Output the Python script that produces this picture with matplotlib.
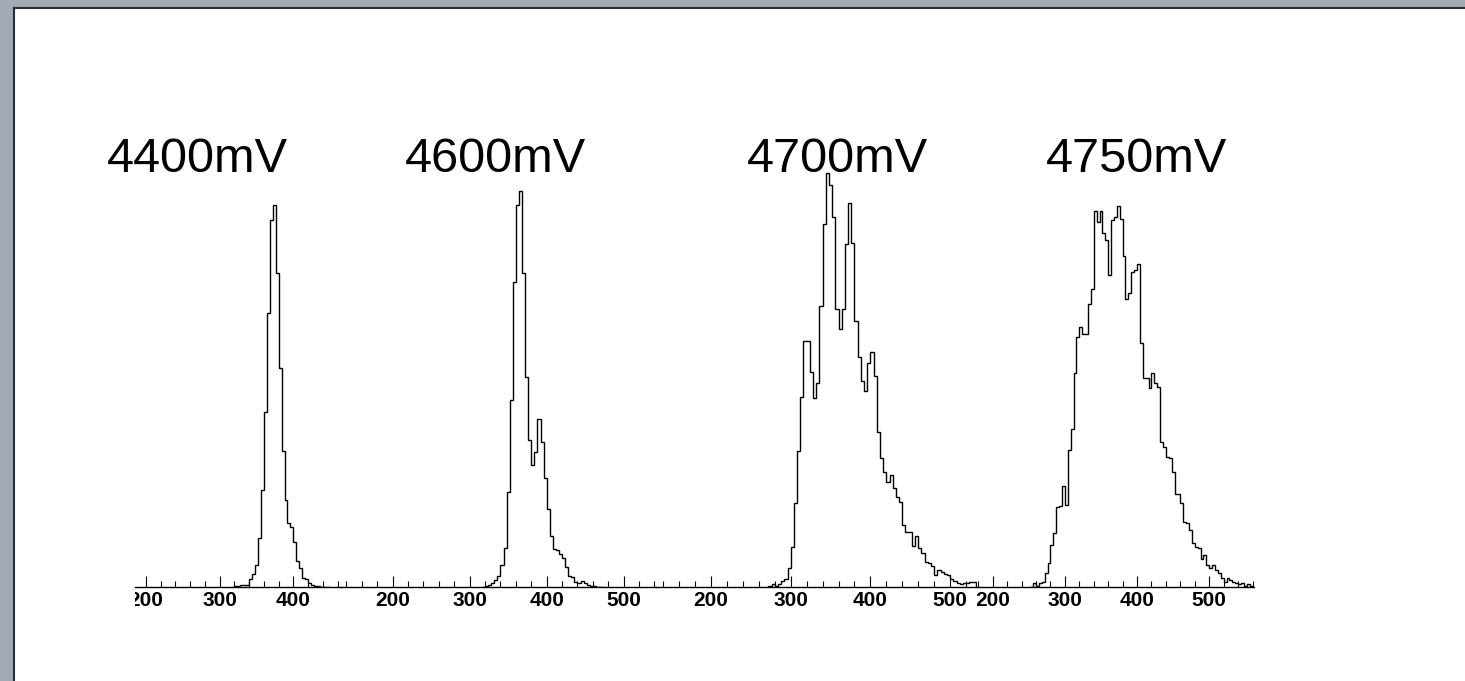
import numpy as np
import matplotlib.pyplot as plt
from matplotlib.patches import Rectangle
from matplotlib.lines import Line2D
from matplotlib.ticker import MultipleLocator
from matplotlib.transforms import Bbox, TransformedBbox

plt.rcParams['font.family'] = ['Liberation Sans', 'DejaVu Sans']

# ------------------------------------------------------------------
# histogram data (bin width 4 ADC units)
# ------------------------------------------------------------------
bin_width = 4
labels = ["4400mV", "4600mV", "4700mV", "4750mV"]
first_bin = [320, 316, 272, 252]

counts_4400 = [1, 1.5, 2, 2, 2, 8, 13, 22, 49, 97, 175, 274, 367, 382, 314, 219,
               136, 87, 64, 60, 45, 26, 19, 9, 8, 4, 2, 1, 1, 0.5, 0.5, 0.3]

counts_4600 = [0.5, 1, 2, 3.7, 7, 11, 22, 39, 95, 187, 305, 382, 396, 314, 210, 147,
               122, 135, 168, 145, 109, 78, 51, 38, 37, 33, 29, 20, 11, 10, 5, 4,
               6, 4, 2, 1, 1, 0.5, 0.5, 0.3]

counts_4700 = [1, 3, 1, 3, 6, 8, 19, 40, 84, 136, 190, 246, 246, 215, 189, 204,
               281, 363, 414, 402, 370, 278, 258, 278, 343, 384, 344, 266, 230, 206,
               196, 224, 235, 211, 155, 129, 115, 105, 112, 99, 90, 85, 62, 55, 55,
               41, 51, 39, 34, 25, 24, 21, 12, 17, 15, 13, 12, 8, 6, 4, 3, 4, 4, 5, 5]

counts_4750 = [0.5, 3.7, 1, 3.7, 5.3, 14, 24, 42, 54, 80, 81, 101, 82, 137, 158, 214,
               250, 260, 253, 253, 283, 298, 376, 365, 376, 354, 347, 312, 367, 370,
               381, 368, 331, 288, 294, 315, 317, 323, 244, 209, 209, 199, 214, 204,
               200, 145, 140, 130, 129, 115, 93, 93, 84, 65, 64, 57, 44, 40, 39, 28,
               32, 22, 19, 22, 17, 14, 9, 5, 9, 7, 5, 4, 3, 4, 1, 3, 1, 0.5]

all_counts = [counts_4400, counts_4600, counts_4700, counts_4750]

# visible x range of each cropped panel
x_ranges = [(185.1, 464.6), (132.9, 542.0), (131.0, 533.7), (178.3, 562.0)]

# ------------------------------------------------------------------
# layout (pixel positions of the original collage)
# ------------------------------------------------------------------
W, H = 1465, 681
panel_px = [(135, 341), (341, 656), (656, 977), (977, 1254)]
title_px = [107, 405, 747, 1046]
base_y, top_y = 587, 160

fig = plt.figure(figsize=(W / 100, H / 100), dpi=100)
fig.patch.set_facecolor('#a2abb3')

# white slide area with dark top/left edge
fig.add_artist(Rectangle((14 / W, 0), 1 - 14 / W, (H - 8) / H,
                         transform=fig.transFigure, facecolor='white',
                         edgecolor='none', zorder=0))
fig.add_artist(Line2D([13.5 / W, 13.5 / W], [0, (H - 7.5) / H], transform=fig.transFigure,
                      color='#2b2f33', lw=1.5, zorder=1))
fig.add_artist(Line2D([13.5 / W, 1], [(H - 7.5) / H, (H - 7.5) / H], transform=fig.transFigure,
                      color='#2b2f33', lw=1.5, zorder=1))

for i in range(4):
    x0, x1 = panel_px[i]
    ax = fig.add_axes([x0 / W, (H - base_y) / H, (x1 - x0) / W, (base_y - top_y) / H])
    ax.patch.set_alpha(0)

    vals = np.array(all_counts[i])
    edges = first_bin[i] + bin_width * np.arange(len(vals) + 1)
    ax.stairs(vals, edges, color='black', lw=1.0, baseline=0)

    ax.set_xlim(*x_ranges[i])
    ax.set_ylim(0, base_y - top_y)

    for s in ['top', 'left', 'right']:
        ax.spines[s].set_visible(False)
    ax.spines['bottom'].set_linewidth(1.0)
    ax.set_yticks([])

    ax.xaxis.set_major_locator(MultipleLocator(100))
    ax.xaxis.set_minor_locator(MultipleLocator(20))
    ax.tick_params(axis='x', which='major', direction='in', length=8, width=0.8,
                   labelsize=15, pad=3)
    ax.tick_params(axis='x', which='minor', direction='in', length=4, width=0.8)
    for lab in ax.get_xticklabels():
        lab.set_fontweight('bold')

    # clip labels to the panel, like the cropped original
    clip = TransformedBbox(Bbox([[x0 / W, 0], [x1 / W, 1]]), fig.transFigure)
    for lab in ax.get_xticklabels():
        lab.set_clip_box(clip)
        lab.set_clip_on(True)

    fig.text(title_px[i] / W, (H - 172) / H, labels[i], fontsize=35,
             ha='left', va='baseline')

fig.savefig('out.png', dpi=100, facecolor=fig.get_facecolor())
